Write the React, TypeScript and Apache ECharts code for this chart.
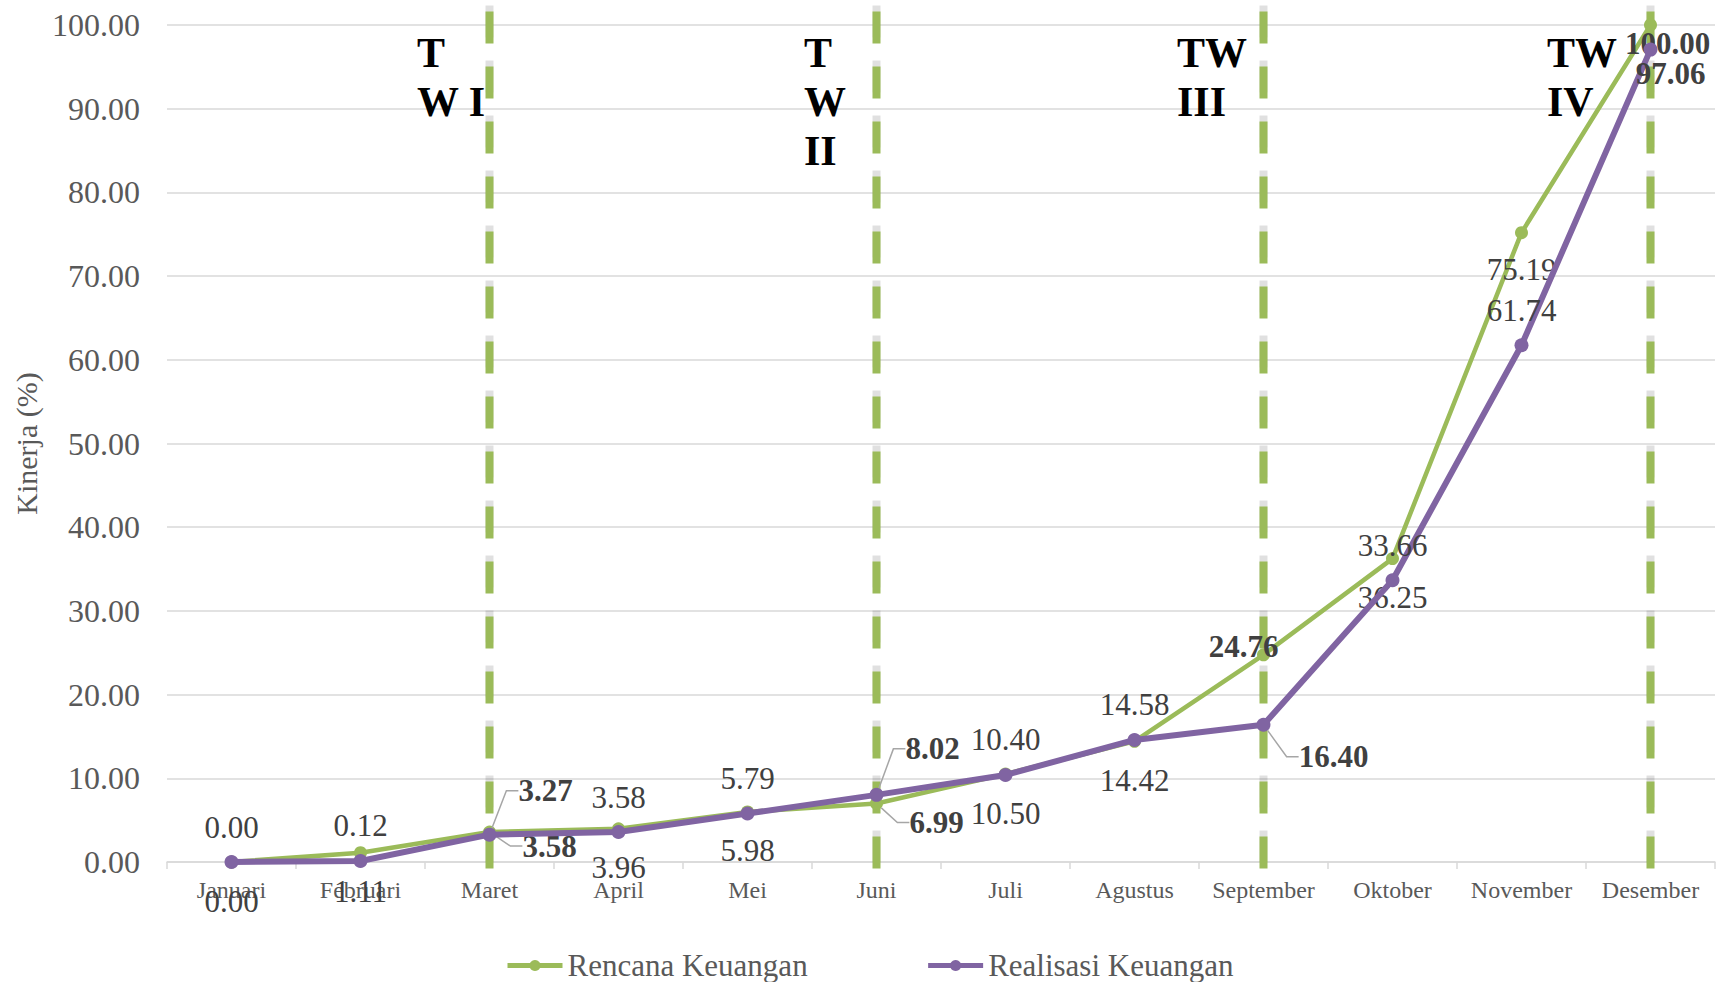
import React, { useEffect, useRef } from 'react';
import * as echarts from 'echarts';

const months = ['Januari', 'Februari', 'Maret', 'April', 'Mei', 'Juni', 'Juli', 'Agustus', 'September', 'Oktober', 'November', 'Desember'];
const rencana = [0, 1.11, 3.58, 3.96, 5.98, 6.99, 10.5, 14.42, 24.76, 36.25, 75.19, 100];
const realisasi = [0, 0.12, 3.27, 3.58, 5.79, 8.02, 10.4, 14.58, 16.4, 33.66, 61.74, 97.06];
const quarterEnds = ['Maret', 'Juni', 'September', 'Desember'];
const quarterLabels = ['T\nW I', 'T\nW\nII', 'TW\nIII', 'TW\nIV'];
const yMin = 0;
const yMax = 100;
const yInterval = 10;
const guideTop = 101.6;
const guideBottom = -2.2;

const FONT = '"Times New Roman", "Liberation Serif", serif';
const GREEN = '#9BBB59';
const PURPLE = '#8064A2';

type LabelCfg = { offset: [number, number]; bold?: boolean; line?: boolean };
const realisasiLabelCfg: Record<number, LabelCfg> = {
  2: { offset: [56, -44], bold: true, line: true },
  5: { offset: [56, -46], bold: true, line: true },
  8: { offset: [70, 32], bold: true, line: true },
  11: { offset: [20, 24], bold: true },
};
const rencanaLabelCfg: Record<number, LabelCfg> = {
  2: { offset: [60, 14], bold: true, line: true },
  5: { offset: [60, 19], bold: true, line: true },
  8: { offset: [-20, -8], bold: true },
  10: { offset: [0, 37] },
  11: { offset: [17, 18], bold: true },
};
const quarterLabelPos: [number, number][] = [[417, 28], [804, 28], [1177, 28], [1547, 28]];

function buildData(values: number[], cfg: Record<number, LabelCfg>) {
  return values.map((v, i) => {
    const c = cfg[i];
    return {
      value: v,
      label: {
        show: true,
        position: 'inside',
        fontWeight: c && c.bold ? 'bold' : 'normal',
        color: '#404040',
        fontSize: 31,
        fontFamily: FONT,
        textBorderWidth: 0,
        formatter: () => v.toFixed(2),
      },
      labelLine: c && c.line
        ? { show: true, showAbove: true, length2: 12, lineStyle: { color: '#a6a6a6', width: 1.5 } }
        : { show: false },
    };
  });
}

function layoutFor(cfg: Record<number, LabelCfg>, def: [number, number]) {
  return (p: any) => {
    const c = cfg[p.dataIndex];
    const o = c ? c.offset : def;
    return { dx: o[0], dy: o[1] };
  };
}

export default function App() {
  const ref = useRef<HTMLDivElement>(null);
  useEffect(() => {
    if (!ref.current) return;
    const chart = echarts.init(ref.current, undefined, { renderer: 'svg' });
    const option: any = {
      animation: false,
      backgroundColor: '#ffffff',
      grid: { left: 167, right: 5, top: 25, bottom: 120, containLabel: false },
      legend: {
        data: ['Rencana Keuangan', 'Realisasi Keuangan'],
        left: 500,
        top: 945,
        itemWidth: 55,
        itemHeight: 14,
        itemGap: 118,
        lineStyle: { width: 5 },
        textStyle: { fontSize: 31, color: '#595959', fontFamily: FONT },
      },
      xAxis: {
        type: 'category',
        data: months,
        boundaryGap: true,
        axisLine: { lineStyle: { color: '#d9d9d9', width: 1.5 } },
        axisTick: { show: true, length: 7, lineStyle: { color: '#d9d9d9', width: 1.5 } },
        axisLabel: { fontSize: 24, color: '#595959', fontFamily: FONT, margin: 16, interval: 0 },
      },
      yAxis: {
        type: 'value',
        min: yMin,
        max: yMax,
        interval: yInterval,
        name: 'Kinerja (%)',
        nameLocation: 'middle',
        nameGap: 124,
        nameTextStyle: { fontSize: 30, color: '#595959', fontFamily: FONT },
        axisLine: { show: false },
        axisTick: { show: false },
        splitLine: { lineStyle: { color: '#d9d9d9', width: 1.5 } },
        axisLabel: {
          fontSize: 32,
          color: '#595959',
          fontFamily: FONT,
          margin: 27,
          formatter: (v: number) => v.toFixed(2),
        },
      },
      graphic: quarterLabels.map((t, i) => ({
        type: 'text',
        left: quarterLabelPos[i][0],
        top: quarterLabelPos[i][1],
        z: 50,
        style: {
          text: t,
          fontSize: 42,
          fontWeight: 'bold',
          fontFamily: FONT,
          fill: '#000000',
          lineHeight: 49,
        },
      })),
      series: [
        {
          type: 'custom',
          name: 'quarters',
          silent: true,
          clip: false,
          z: 1,
          data: quarterEnds.map((m) => [months.indexOf(m), guideTop, guideBottom]),
          encode: { x: 0, y: [1, 2] },
          renderItem: (params: any, api: any) => {
            const top = api.coord([api.value(0), api.value(1)]);
            const bot = api.coord([api.value(0), api.value(2)]);
            return {
              type: 'group',
              children: [
                {
                  type: 'line',
                  shape: { x1: top[0], y1: top[1] - 6, x2: bot[0], y2: bot[1] - 6 },
                  style: { stroke: 'rgba(0,0,0,0.12)', lineWidth: 8, lineDash: [32, 23] },
                },
                {
                  type: 'line',
                  shape: { x1: top[0], y1: top[1], x2: bot[0], y2: bot[1] },
                  style: { stroke: GREEN, lineWidth: 8, lineDash: [32, 23] },
                },
              ],
            };
          },
        },
        {
          type: 'line',
          name: 'Rencana Keuangan',
          z: 3,
          data: buildData(rencana, rencanaLabelCfg),
          labelLayout: layoutFor(rencanaLabelCfg, [0, 39]),
          symbol: 'circle',
          symbolSize: 13,
          lineStyle: { color: GREEN, width: 4.5 },
          itemStyle: { color: GREEN },
        },
        {
          type: 'line',
          name: 'Realisasi Keuangan',
          z: 4,
          data: buildData(realisasi, realisasiLabelCfg),
          labelLayout: layoutFor(realisasiLabelCfg, [0, -35]),
          symbol: 'circle',
          symbolSize: 14,
          lineStyle: { color: PURPLE, width: 6 },
          itemStyle: { color: PURPLE },
        },
      ],
    };
    chart.setOption(option);
    return () => chart.dispose();
  }, []);
  return <div ref={ref} style={{ position: 'absolute', left: 0, top: 0, width: 1720, height: 982 }} />;
}
